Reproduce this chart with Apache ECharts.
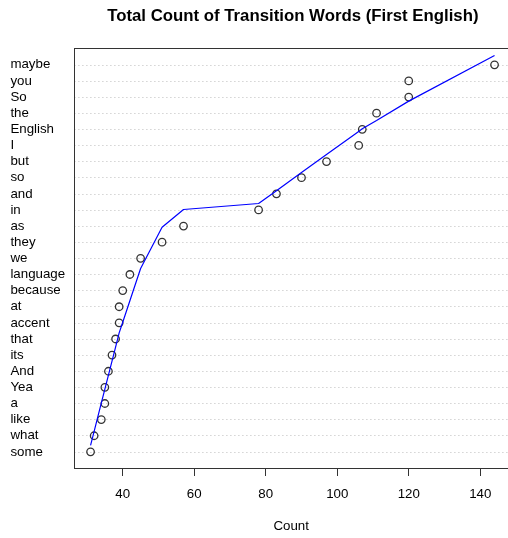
<!DOCTYPE html>
<html>
<head>
<meta charset="utf-8">
<script src="https://cdn.jsdelivr.net/npm/echarts@6/dist/echarts.min.js"></script>
<style>
  html, body { margin: 0; padding: 0; background: #fff; }
  #chart { width: 508px; height: 538px; }
</style>
</head>
<body>
<div id="chart"></div>
<script>
// Words listed bottom to top, with their counts
const words = ['some', 'what', 'like', 'a', 'Yea', 'And', 'its', 'that', 'accent', 'at',
  'because', 'language', 'we', 'they', 'as', 'in', 'and', 'so', 'but', 'I',
  'English', 'the', 'So', 'you', 'maybe'];
const counts = [31, 32, 34, 35, 35, 36, 37, 38, 39, 39,
  40, 42, 45, 51, 57, 78, 83, 90, 97, 106,
  107, 111, 120, 120, 144];

// Smoothed trend: count on x, fitted row position on y
const trendCounts = [31, 32, 34, 35, 36, 37, 38, 39, 40, 42, 45, 51, 57, 78, 83, 90, 97, 106, 107, 111, 120, 144];
const trendRows = [0.4, 1.27, 3.02, 3.89, 4.76, 5.63, 6.5, 7.38, 8.04, 9.37, 11.37, 13.93, 15.03, 15.4, 16.19, 17.33, 18.44, 19.87, 20.03, 20.55, 21.75, 24.58];

const xTicks = [40, 60, 80, 100, 120, 140];

const FONT = '"Liberation Sans", Arial, Helvetica, sans-serif';
const chart = echarts.init(document.getElementById('chart'), null, { renderer: 'canvas' });

// Plot region: left edge fixed, right edge runs to the page edge
const plotLeft = 74.4;
const plotWidth = 508 - plotLeft;
const fullWidth = 436.3;   // width of the full 4%-padded range

const pad = (Math.max(...counts) - Math.min(...counts)) * 0.04;
const xMin = Math.min(...counts) - pad;
const xMaxFull = Math.max(...counts) + pad;
const xMax = xMin + (xMaxFull - xMin) * plotWidth / fullWidth;

chart.setOption({
  animation: false,
  backgroundColor: '#ffffff',
  graphic: [{
    type: 'text',
    x: 292.8,
    y: 16.5,
    style: {
      text: 'Total Count of Transition Words (First English)',
      font: 'bold 16.8px ' + FONT,
      fill: '#000',
      align: 'center',
      verticalAlign: 'middle'
    }
  }],
  grid: { left: plotLeft, top: 48.7, width: plotWidth, height: 420, containLabel: false },
  xAxis: [{
    type: 'value',
    min: xMin,
    max: xMax,
    position: 'bottom',
    name: 'Count',
    nameLocation: 'middle',
    nameGap: 52,
    nameTextStyle: { fontFamily: FONT, fontSize: 13.3, color: '#000' },
    axisLine: { show: true, onZero: false, lineStyle: { color: '#333', width: 1 } },
    axisTick: { show: true, length: 8, customValues: xTicks, lineStyle: { color: '#333' } },
    axisLabel: { customValues: xTicks, margin: 20, fontFamily: FONT, fontSize: 13.3, color: '#000' },
    splitLine: { show: false }
  }, {
    type: 'value',
    min: xMin,
    max: xMax,
    position: 'top',
    axisLine: { show: true, onZero: false, lineStyle: { color: '#333', width: 1 } },
    axisTick: { show: false },
    axisLabel: { show: false },
    splitLine: { show: false }
  }],
  yAxis: {
    type: 'value',
    min: -1,
    max: words.length,
    interval: 1,
    axisLine: { show: true, onZero: false, lineStyle: { color: '#333', width: 1 } },
    axisTick: { show: false },
    axisLabel: {
      margin: 64,
      align: 'left',
      padding: [6, 0, 0, 0],
      fontFamily: FONT,
      fontSize: 13.3,
      color: '#000',
      formatter: v => (words[v] !== undefined ? words[v] : '')
    },
    splitLine: {
      show: true,
      showMinLine: false,
      showMaxLine: false,
      lineStyle: { color: '#bdbdbd', width: 1, type: [1, 3] }
    }
  },
  series: [{
    type: 'scatter',
    data: counts.map((c, i) => [c, i]),
    symbol: 'circle',
    symbolSize: 7.5,
    itemStyle: { color: 'transparent', borderColor: '#000', borderWidth: 1.3 },
    z: 3
  }, {
    type: 'line',
    data: trendCounts.map((c, i) => [c, trendRows[i]]),
    showSymbol: false,
    symbol: 'none',
    lineStyle: { color: '#0000ff', width: 1.2 },
    z: 4
  }]
});
</script>
</body>
</html>
